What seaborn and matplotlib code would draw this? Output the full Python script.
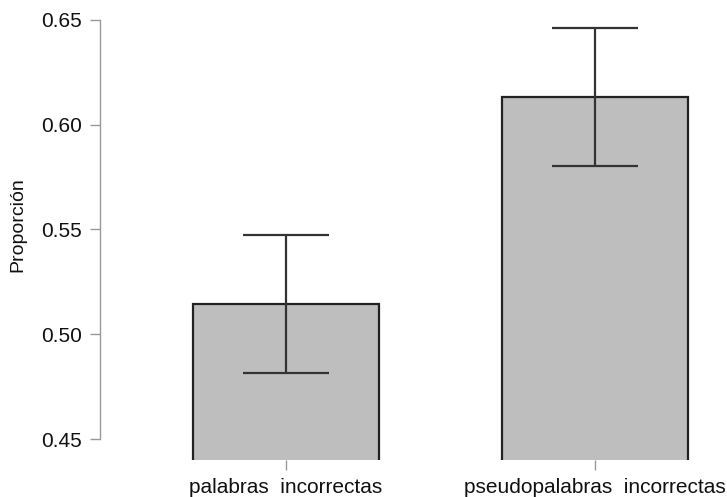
import matplotlib
matplotlib.use("Agg")
import matplotlib.pyplot as plt
import seaborn as sns
import pandas as pd

categories = ["palabras  incorrectas", "pseudopalabras  incorrectas"]
proportions = [0.5145, 0.6133]
errors = [0.033, 0.033]
y_ticks = [0.45, 0.50, 0.55, 0.60, 0.65]

df = pd.DataFrame({"categoria": categories, "proporcion": proportions})

sns.set_theme(style="white")
plt.rcParams["font.family"] = ["Liberation Sans", "DejaVu Sans"]

fig = plt.figure(figsize=(7.27, 4.97), dpi=100)
ax = fig.add_axes([100 / 727, 37 / 497, 627 / 727, 457 / 497])

sns.barplot(data=df, x="categoria", y="proporcion", color="#BEBEBE",
            saturation=1, width=0.6, edgecolor="#222222", linewidth=1.6,
            errorbar=None, ax=ax)
ax.errorbar(range(len(categories)), proportions, yerr=errors, fmt="none",
            ecolor="#333333", elinewidth=1.6, capsize=31, capthick=1.6)

ax.set_xlim(-0.602, 1.427)
ax.set_ylim(0.44, 0.658)
ax.set_yticks(y_ticks)
ax.set_yticklabels([f"{v:.2f}" for v in y_ticks])
ax.set_xlabel("")
ax.set_ylabel("Proporción", fontsize=14, color="#111111")
ax.yaxis.set_label_coords(-0.118, 0.514)

for side in ["top", "right", "bottom"]:
    ax.spines[side].set_visible(False)
ax.spines["left"].set_bounds(0.45, 0.65)
ax.spines["left"].set_color("#999999")
ax.spines["left"].set_linewidth(1.0)

ax.tick_params(axis="y", which="major", left=True, length=7.2, width=1.0,
               color="#999999", pad=6, labelsize=15, labelcolor="#111111")
ax.tick_params(axis="x", which="major", bottom=True, length=7.2, width=1.0,
               color="#999999", pad=5.5, labelsize=15, labelcolor="#111111")

fig.savefig("out.png", dpi=100)
